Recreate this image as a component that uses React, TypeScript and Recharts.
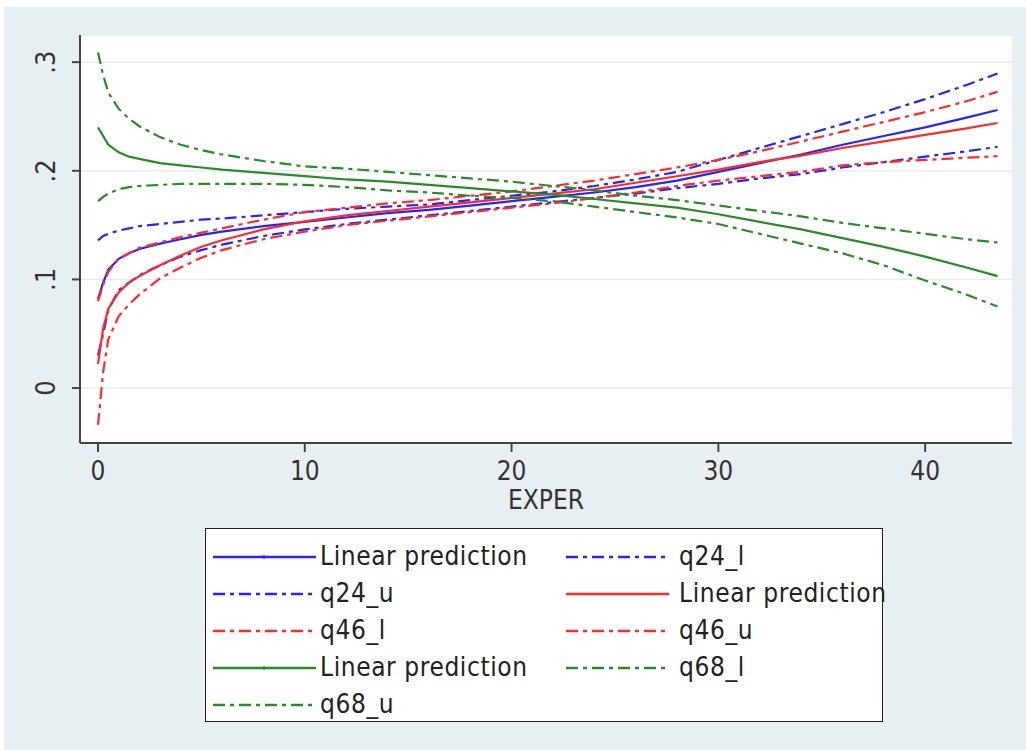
import { LineChart, Line, XAxis, YAxis, CartesianGrid, Legend, Label } from "recharts";

const FONT = "'Liberation Sans Narrow', 'DejaVu Sans Condensed', 'Arial Narrow', sans-serif";
const BLUE = "#2525ff";
const RED = "#ff2a2a";
const GREEN = "#2a8a2a";
const DASH = "12 5 4 5";

const exper = [0, 0.25, 0.5, 1, 1.5, 2, 3, 4, 5, 6, 8, 10, 12, 14, 16, 18, 20, 22, 24, 26, 28, 30, 32, 34, 36, 38, 40, 42, 43.5];

const blueFit = [0.082, 0.097, 0.109, 0.119, 0.124, 0.128, 0.133, 0.137, 0.141, 0.144, 0.149, 0.153, 0.157, 0.161, 0.164, 0.168, 0.172, 0.176, 0.18, 0.185, 0.191, 0.199, 0.207, 0.215, 0.224, 0.232, 0.24, 0.249, 0.256];
const q24Lo = [0.03, 0.05, 0.072, 0.09, 0.097, 0.104, 0.113, 0.121, 0.127, 0.132, 0.14, 0.146, 0.151, 0.155, 0.159, 0.163, 0.167, 0.171, 0.175, 0.179, 0.184, 0.188, 0.193, 0.197, 0.203, 0.208, 0.213, 0.218, 0.222];
const q24Hi = [0.136, 0.14, 0.142, 0.145, 0.147, 0.149, 0.151, 0.153, 0.155, 0.156, 0.159, 0.162, 0.165, 0.167, 0.169, 0.173, 0.177, 0.181, 0.186, 0.192, 0.199, 0.21, 0.221, 0.232, 0.243, 0.254, 0.266, 0.279, 0.2895];

const redFit = [0.022, 0.055, 0.073, 0.088, 0.097, 0.103, 0.113, 0.122, 0.13, 0.136, 0.146, 0.1535, 0.159, 0.163, 0.167, 0.171, 0.175, 0.179, 0.183, 0.189, 0.195, 0.201, 0.208, 0.214, 0.221, 0.227, 0.233, 0.239, 0.244];
const q46Lo = [-0.034, 0.015, 0.045, 0.066, 0.077, 0.086, 0.101, 0.111, 0.12, 0.127, 0.137, 0.144, 0.15, 0.154, 0.158, 0.162, 0.166, 0.17, 0.175, 0.18, 0.186, 0.191, 0.195, 0.199, 0.205, 0.208, 0.21, 0.212, 0.2134];
const q46Hi = [0.08, 0.095, 0.107, 0.119, 0.124, 0.129, 0.134, 0.139, 0.143, 0.147, 0.155, 0.162, 0.166, 0.17, 0.173, 0.177, 0.181, 0.186, 0.191, 0.197, 0.203, 0.21, 0.218, 0.227, 0.236, 0.245, 0.254, 0.264, 0.2727];

const greenFit = [0.24, 0.232, 0.224, 0.217, 0.213, 0.211, 0.207, 0.205, 0.203, 0.201, 0.198, 0.195, 0.192, 0.19, 0.187, 0.184, 0.181, 0.178, 0.174, 0.17, 0.166, 0.16, 0.153, 0.146, 0.138, 0.13, 0.121, 0.111, 0.103];
const q68Lo = [0.172, 0.176, 0.179, 0.183, 0.185, 0.186, 0.187, 0.188, 0.188, 0.188, 0.188, 0.187, 0.185, 0.182, 0.18, 0.177, 0.175, 0.172, 0.167, 0.162, 0.157, 0.151, 0.142, 0.133, 0.124, 0.113, 0.099, 0.086, 0.075];
const q68Hi = [0.309, 0.288, 0.272, 0.257, 0.248, 0.241, 0.231, 0.224, 0.219, 0.215, 0.209, 0.204, 0.202, 0.199, 0.196, 0.193, 0.19, 0.186, 0.182, 0.177, 0.173, 0.168, 0.163, 0.158, 0.152, 0.147, 0.142, 0.137, 0.134];

const xTicks = [0, 10, 20, 30, 40];
const yTicks = [0, 0.1, 0.2, 0.3];
const yTickLabels = ["0", ".1", ".2", ".3"];

// series in Stata's legend order
const SERIES = [
  { key: "blueFit", name: "Linear prediction", color: BLUE, values: blueFit, dash: undefined, dot: true },
  { key: "q24_l", name: "q24_l", color: BLUE, values: q24Lo, dash: DASH, dot: false },
  { key: "q24_u", name: "q24_u", color: BLUE, values: q24Hi, dash: DASH, dot: false },
  { key: "redFit", name: "Linear prediction", color: RED, values: redFit, dash: undefined, dot: false },
  { key: "q46_l", name: "q46_l", color: RED, values: q46Lo, dash: DASH, dot: false },
  { key: "q46_u", name: "q46_u", color: RED, values: q46Hi, dash: DASH, dot: false },
  { key: "greenFit", name: "Linear prediction", color: GREEN, values: greenFit, dash: undefined, dot: true },
  { key: "q68_l", name: "q68_l", color: GREEN, values: q68Lo, dash: DASH, dot: false },
  { key: "q68_u", name: "q68_u", color: GREEN, values: q68Hi, dash: DASH, dot: false },
];

const data = exper.map((x, i) => {
  const row: Record<string, number> = { exper: x };
  SERIES.forEach((s) => (row[s.key] = s.values[i]));
  return row;
});

const YTick = ({ x, y, payload }: any) => {
  const idx = yTicks.indexOf(payload.value);
  return (
    <text x={x} y={y} transform={`rotate(-90 ${x} ${y})`} textAnchor="middle" fill="#333" fontSize={27} fontFamily={FONT}>
      {idx >= 0 ? yTickLabels[idx] : payload.value}
    </text>
  );
};

// two-column legend box, filled row by row like Stata does
function StataLegend() {
  return (
    <div
      style={{
        width: 678,
        height: 194,
        boxSizing: "border-box",
        border: "1.5px solid #222",
        background: "#fff",
        position: "relative",
        fontFamily: FONT,
      }}
    >
      {SERIES.map((s, i) => {
        const col = i % 2;
        const row = Math.floor(i / 2);
        const cy = 28 + row * 37;
        const lineX = col === 0 ? 7 : 360;
        const textX = col === 0 ? 114 : 473;
        return (
          <div key={s.key}>
            <svg width={104} height={10} style={{ position: "absolute", left: lineX, top: cy - 5 }}>
              <line x1={0} y1={5} x2={103} y2={5} stroke={s.color} strokeWidth={2.5} strokeDasharray={s.dash} />
              {s.dot && <circle cx={51} cy={5} r={1.8} fill={s.color} />}
            </svg>
            <span
              style={{
                position: "absolute",
                left: textX,
                top: cy - 17,
                fontSize: 26,
                lineHeight: "32px",
                letterSpacing: 0.6,
                color: "#222",
                whiteSpace: "nowrap",
              }}
            >
              {s.name}
            </span>
          </div>
        );
      })}
    </div>
  );
}

export default function App() {
  return (
    <div style={{ position: "absolute", left: 0, top: 0, width: 1026, height: 750, background: "#fff" }}>
      <div style={{ position: "absolute", left: 4, top: 7, right: 0, bottom: 0, background: "#e8eff2" }} />
      <div style={{ position: "absolute", left: 0, top: 0 }}>
        <LineChart width={1026} height={750} data={data} margin={{ top: 35, right: 14, bottom: 306, left: 79 }}>
          <CartesianGrid vertical={false} fill="#fff" stroke="#e4ecef" strokeWidth={1.5} />
          <XAxis
            dataKey="exper"
            type="number"
            domain={[-0.87, 44.2]}
            ticks={xTicks}
            allowDataOverflow
            height={1}
            axisLine={{ stroke: "#444", strokeWidth: 2 }}
            tickLine={{ stroke: "#444", strokeWidth: 2 }}
            tickSize={9}
            tickMargin={10}
            tick={{ fontSize: 26, fill: "#333", fontFamily: FONT }}
          >
            <Label value="EXPER" position="bottom" offset={47} fontSize={26} fill="#333" fontFamily={FONT} />
          </XAxis>
          <YAxis
            type="number"
            domain={[-0.0506, 0.325]}
            ticks={yTicks}
            allowDataOverflow
            width={1}
            axisLine={{ stroke: "#444", strokeWidth: 2 }}
            tickLine={{ stroke: "#444", strokeWidth: 2 }}
            tickSize={8}
            tickMargin={17}
            tick={<YTick />}
          />
          <Legend
            layout="vertical"
            align="center"
            verticalAlign="middle"
            content={<StataLegend />}
            wrapperStyle={{ left: 205, top: 528, width: 678, height: 194 }}
          />
          {SERIES.map((s) => (
            <Line
              key={s.key}
              dataKey={s.key}
              name={s.name}
              type="linear"
              stroke={s.color}
              strokeWidth={2.2}
              strokeDasharray={s.dash}
              dot={false}
              isAnimationActive={false}
            />
          ))}
        </LineChart>
      </div>
    </div>
  );
}
